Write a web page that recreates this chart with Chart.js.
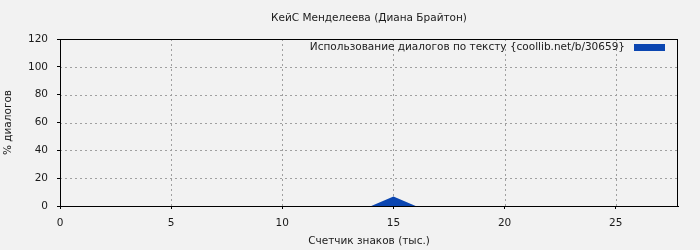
<!DOCTYPE html>
<html><head><meta charset="utf-8">
<script src="https://cdn.jsdelivr.net/npm/chart.js@4/dist/chart.umd.min.js"></script>
<style>html,body{margin:0;padding:0;background:#f2f2f2;}#wrap{width:700px;height:250px;}</style>
</head><body><div id="wrap"><canvas id="c" width="700" height="250"></canvas></div>
<script>
const chartTitle = "КейС Менделеева (Диана Брайтон)";
const seriesLabel = "Использование диалогов по тексту {coollib.net/b/30659}";
const xTitle = "Счетчик знаков (тыс.)";
const yTitle = "% диалогов";
const xValues = [0,1,2,3,4,5,6,7,8,9,10,11,12,13,14,15,16,17,18,19,20,21,22,23,24,25,26,27,27.8];
const yValues = [0,0,0,0,0,0,0,0,0,0,0,0,0,0,0,6.8,0,0,0,0,0,0,0,0,0,0,0,0,0];
const xTicks = [0,5,10,15,20,25];
const yTicks = [0,20,40,60,80,100,120];
const FONT = "'DejaVu Sans'";
const FS = 10.5;
const fill = '#0b46b1';

const points = xValues.map((x,i)=>({x:x,y:yValues[i]}));

const deco = {
  id:'deco',
  beforeDraw(chart){
    const c=chart.ctx; c.save(); c.fillStyle='#f2f2f2'; c.fillRect(0,0,chart.width,chart.height); c.restore();
  },
  beforeDatasetsDraw(chart){
    const c=chart.ctx, a=chart.chartArea, xs=chart.scales.x, ys=chart.scales.y;
    c.save(); c.strokeStyle='#a0a0a0'; c.lineWidth=1; c.setLineDash([2,3]);
    xTicks.forEach(v=>{ if(v<=xs.min||v>=xs.max) return; const px=Math.round(xs.getPixelForValue(v))+0.5; c.beginPath(); c.moveTo(px,a.bottom); c.lineTo(px,a.top); c.stroke();});
    yTicks.forEach(v=>{ if(v<=ys.min||v>=ys.max) return; const py=Math.round(ys.getPixelForValue(v))+0.5; c.beginPath(); c.moveTo(a.left,py); c.lineTo(a.right,py); c.stroke();});
    c.restore();
  },
  afterDraw(chart){
    const c=chart.ctx, a=chart.chartArea;
    c.save();
    c.strokeStyle='#000'; c.lineWidth=1; c.setLineDash([]);
    c.strokeRect(Math.round(a.left)+0.5, Math.round(a.top)+0.5, Math.round(a.right-a.left)-1, Math.round(a.bottom-a.top));
    c.fillStyle='#1a1a1a'; c.font=FS+'px '+FONT; c.textBaseline='middle';
    c.textAlign='center'; c.fillText(chartTitle,(a.left+a.right)/2,18);
    const ds=chart.data.datasets[0];
    c.fillStyle=fill; c.fillRect(a.right-44, 44, 31, 7);
    c.fillStyle='#1a1a1a'; c.textAlign='right'; c.fillText(ds.label, a.right-53, 47.5);
    c.restore();
  }
};

new Chart(document.getElementById('c'),{
  type:'line',
  data:{datasets:[{label:seriesLabel,data:points,fill:'origin',backgroundColor:fill,borderWidth:0,pointRadius:0,tension:0}]},
  options:{
    responsive:false,animation:false,
    layout:{padding:{left:2,right:22,top:39,bottom:2}},
    plugins:{legend:{display:false},title:{display:false},tooltip:{enabled:false}},
    scales:{
      x:{type:'linear',min:0,max:27.8,
        afterFit(s){s.height=42;},
        afterBuildTicks(s){s.ticks=xTicks.map(v=>({value:v}));},
        border:{display:true,color:'#000',width:1},
        grid:{drawOnChartArea:false,drawTicks:true,tickLength:3,color:'#000'},
        ticks:{color:'#1a1a1a',font:{family:FONT,size:FS},padding:8,maxRotation:0},
        title:{display:true,text:xTitle,color:'#1a1a1a',font:{family:FONT,size:FS},padding:{top:4,bottom:0}}
      },
      y:{min:0,max:120,
        afterFit(s){s.width=58;},
        afterBuildTicks(s){s.ticks=yTicks.map(v=>({value:v}));},
        border:{display:true,color:'#000',width:1},
        grid:{drawOnChartArea:false,drawTicks:true,tickLength:3,color:'#000'},
        ticks:{color:'#1a1a1a',font:{family:FONT,size:FS},padding:9},
        title:{display:true,text:yTitle,color:'#1a1a1a',font:{family:FONT,size:FS},padding:{top:0,bottom:0}}
      }
    }
  },
  plugins:[deco]
});
</script></body></html>
